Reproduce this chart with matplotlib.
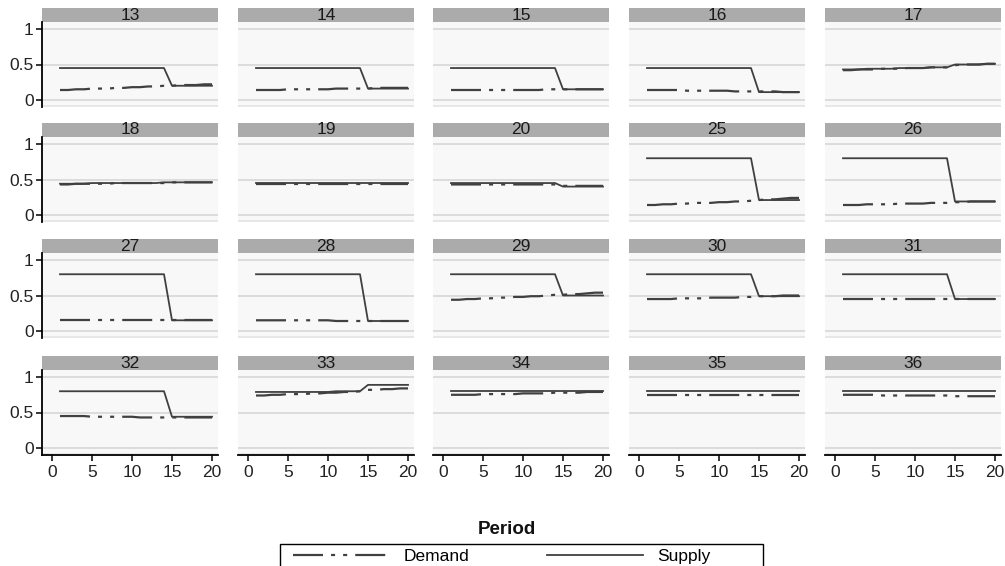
import matplotlib
matplotlib.use("Agg")
import matplotlib.pyplot as plt
from matplotlib.patches import Rectangle
from matplotlib.lines import Line2D

plt.rcParams['font.family'] = ['Liberation Sans', 'DejaVu Sans']
plt.rcParams['lines.scale_dashes'] = False

periods = list(range(1, 21))
panel_ids = ["13", "14", "15", "16", "17",
             "18", "19", "20", "25", "26",
             "27", "28", "29", "30", "31",
             "32", "33", "34", "35", "36"]

d13 = [0.14, 0.14, 0.15, 0.15, 0.16, 0.16, 0.16, 0.17, 0.17, 0.18, 0.18, 0.19, 0.19, 0.20, 0.20, 0.21, 0.21, 0.21, 0.22, 0.22]
s13 = [0.45, 0.45, 0.45, 0.45, 0.45, 0.45, 0.45, 0.45, 0.45, 0.45, 0.45, 0.45, 0.45, 0.45, 0.20, 0.20, 0.20, 0.20, 0.20, 0.20]
d14 = [0.14, 0.14, 0.14, 0.14, 0.15, 0.15, 0.15, 0.15, 0.15, 0.15, 0.16, 0.16, 0.16, 0.16, 0.16, 0.17, 0.17, 0.17, 0.17, 0.17]
s14 = [0.45, 0.45, 0.45, 0.45, 0.45, 0.45, 0.45, 0.45, 0.45, 0.45, 0.45, 0.45, 0.45, 0.45, 0.16, 0.16, 0.16, 0.16, 0.16, 0.16]
d15 = [0.14, 0.14, 0.14, 0.14, 0.14, 0.14, 0.14, 0.14, 0.14, 0.14, 0.14, 0.14, 0.15, 0.15, 0.15, 0.15, 0.15, 0.15, 0.15, 0.15]
s15 = [0.45, 0.45, 0.45, 0.45, 0.45, 0.45, 0.45, 0.45, 0.45, 0.45, 0.45, 0.45, 0.45, 0.45, 0.15, 0.15, 0.15, 0.15, 0.15, 0.15]
d16 = [0.14, 0.14, 0.14, 0.14, 0.14, 0.13, 0.13, 0.13, 0.13, 0.13, 0.13, 0.12, 0.12, 0.12, 0.12, 0.12, 0.12, 0.11, 0.11, 0.11]
s16 = [0.45, 0.45, 0.45, 0.45, 0.45, 0.45, 0.45, 0.45, 0.45, 0.45, 0.45, 0.45, 0.45, 0.45, 0.11, 0.11, 0.11, 0.11, 0.11, 0.11]
d17 = [0.42, 0.42, 0.43, 0.43, 0.43, 0.44, 0.44, 0.44, 0.45, 0.45, 0.45, 0.46, 0.46, 0.46, 0.49, 0.50, 0.50, 0.50, 0.51, 0.51]
s17 = [0.43, 0.43, 0.43, 0.44, 0.44, 0.44, 0.44, 0.45, 0.45, 0.45, 0.45, 0.46, 0.46, 0.46, 0.50, 0.50, 0.50, 0.50, 0.51, 0.51]
d18 = [0.43, 0.43, 0.44, 0.44, 0.44, 0.44, 0.44, 0.45, 0.45, 0.45, 0.45, 0.45, 0.45, 0.45, 0.46, 0.46, 0.46, 0.46, 0.46, 0.46]
s18 = [0.44, 0.44, 0.44, 0.44, 0.45, 0.45, 0.45, 0.45, 0.45, 0.45, 0.45, 0.45, 0.45, 0.46, 0.46, 0.46, 0.46, 0.46, 0.46, 0.46]
d19 = [0.43, 0.43, 0.43, 0.43, 0.43, 0.43, 0.43, 0.43, 0.43, 0.43, 0.43, 0.43, 0.43, 0.43, 0.43, 0.43, 0.43, 0.43, 0.43, 0.43]
s19 = [0.45, 0.45, 0.45, 0.45, 0.45, 0.45, 0.45, 0.45, 0.45, 0.45, 0.45, 0.45, 0.45, 0.45, 0.45, 0.45, 0.45, 0.45, 0.45, 0.45]
d20 = [0.43, 0.43, 0.43, 0.43, 0.43, 0.43, 0.43, 0.43, 0.43, 0.43, 0.43, 0.43, 0.43, 0.43, 0.41, 0.41, 0.41, 0.41, 0.41, 0.41]
s20 = [0.45, 0.45, 0.45, 0.45, 0.45, 0.45, 0.45, 0.45, 0.45, 0.45, 0.45, 0.45, 0.45, 0.45, 0.40, 0.40, 0.40, 0.40, 0.40, 0.40]
d25 = [0.14, 0.14, 0.15, 0.15, 0.16, 0.16, 0.17, 0.17, 0.17, 0.18, 0.18, 0.19, 0.19, 0.20, 0.21, 0.22, 0.22, 0.23, 0.24, 0.24]
s25 = [0.80, 0.80, 0.80, 0.80, 0.80, 0.80, 0.80, 0.80, 0.80, 0.80, 0.80, 0.80, 0.80, 0.80, 0.21, 0.21, 0.21, 0.21, 0.21, 0.21]
d26 = [0.14, 0.14, 0.14, 0.15, 0.15, 0.15, 0.15, 0.16, 0.16, 0.16, 0.16, 0.17, 0.17, 0.17, 0.18, 0.18, 0.19, 0.19, 0.19, 0.19]
s26 = [0.80, 0.80, 0.80, 0.80, 0.80, 0.80, 0.80, 0.80, 0.80, 0.80, 0.80, 0.80, 0.80, 0.80, 0.19, 0.19, 0.19, 0.19, 0.19, 0.19]
d27 = [0.15, 0.15, 0.15, 0.15, 0.15, 0.15, 0.15, 0.15, 0.15, 0.15, 0.15, 0.15, 0.15, 0.15, 0.15, 0.15, 0.15, 0.15, 0.15, 0.15]
s27 = [0.80, 0.80, 0.80, 0.80, 0.80, 0.80, 0.80, 0.80, 0.80, 0.80, 0.80, 0.80, 0.80, 0.80, 0.15, 0.15, 0.15, 0.15, 0.15, 0.15]
d28 = [0.15, 0.15, 0.15, 0.15, 0.15, 0.15, 0.15, 0.15, 0.15, 0.15, 0.14, 0.14, 0.14, 0.14, 0.14, 0.14, 0.14, 0.14, 0.14, 0.14]
s28 = [0.80, 0.80, 0.80, 0.80, 0.80, 0.80, 0.80, 0.80, 0.80, 0.80, 0.80, 0.80, 0.80, 0.80, 0.14, 0.14, 0.14, 0.14, 0.14, 0.14]
d29 = [0.44, 0.44, 0.45, 0.45, 0.46, 0.46, 0.47, 0.47, 0.48, 0.48, 0.49, 0.49, 0.50, 0.51, 0.51, 0.52, 0.52, 0.53, 0.54, 0.54]
s29 = [0.80, 0.80, 0.80, 0.80, 0.80, 0.80, 0.80, 0.80, 0.80, 0.80, 0.80, 0.80, 0.80, 0.80, 0.50, 0.50, 0.50, 0.50, 0.50, 0.50]
d30 = [0.45, 0.45, 0.45, 0.45, 0.46, 0.46, 0.46, 0.46, 0.47, 0.47, 0.47, 0.47, 0.48, 0.48, 0.49, 0.49, 0.49, 0.50, 0.50, 0.50]
s30 = [0.80, 0.80, 0.80, 0.80, 0.80, 0.80, 0.80, 0.80, 0.80, 0.80, 0.80, 0.80, 0.80, 0.80, 0.49, 0.49, 0.49, 0.49, 0.49, 0.49]
d31 = [0.45, 0.45, 0.45, 0.45, 0.45, 0.45, 0.45, 0.45, 0.45, 0.45, 0.45, 0.45, 0.45, 0.45, 0.45, 0.45, 0.45, 0.45, 0.45, 0.45]
s31 = [0.80, 0.80, 0.80, 0.80, 0.80, 0.80, 0.80, 0.80, 0.80, 0.80, 0.80, 0.80, 0.80, 0.80, 0.45, 0.45, 0.45, 0.45, 0.45, 0.45]
d32 = [0.45, 0.45, 0.45, 0.45, 0.44, 0.44, 0.44, 0.44, 0.44, 0.44, 0.43, 0.43, 0.43, 0.43, 0.43, 0.43, 0.43, 0.43, 0.43, 0.43]
s32 = [0.80, 0.80, 0.80, 0.80, 0.80, 0.80, 0.80, 0.80, 0.80, 0.80, 0.80, 0.80, 0.80, 0.80, 0.44, 0.44, 0.44, 0.44, 0.44, 0.44]
d33 = [0.74, 0.74, 0.75, 0.75, 0.76, 0.76, 0.76, 0.77, 0.77, 0.78, 0.78, 0.79, 0.79, 0.80, 0.82, 0.82, 0.83, 0.83, 0.84, 0.84]
s33 = [0.79, 0.79, 0.79, 0.79, 0.79, 0.79, 0.79, 0.79, 0.79, 0.79, 0.80, 0.80, 0.80, 0.80, 0.89, 0.89, 0.89, 0.89, 0.89, 0.89]
d34 = [0.75, 0.75, 0.75, 0.75, 0.76, 0.76, 0.76, 0.76, 0.76, 0.77, 0.77, 0.77, 0.77, 0.78, 0.78, 0.78, 0.78, 0.79, 0.79, 0.79]
s34 = [0.80, 0.80, 0.80, 0.80, 0.80, 0.80, 0.80, 0.80, 0.80, 0.80, 0.80, 0.80, 0.80, 0.80, 0.80, 0.80, 0.80, 0.80, 0.80, 0.80]
d35 = [0.75, 0.75, 0.75, 0.75, 0.75, 0.75, 0.75, 0.75, 0.75, 0.75, 0.75, 0.75, 0.75, 0.75, 0.75, 0.75, 0.75, 0.75, 0.75, 0.75]
s35 = [0.80, 0.80, 0.80, 0.80, 0.80, 0.80, 0.80, 0.80, 0.80, 0.80, 0.80, 0.80, 0.80, 0.80, 0.80, 0.80, 0.80, 0.80, 0.80, 0.80]
d36 = [0.75, 0.75, 0.75, 0.75, 0.75, 0.74, 0.74, 0.74, 0.74, 0.74, 0.74, 0.74, 0.74, 0.74, 0.73, 0.73, 0.73, 0.73, 0.73, 0.73]
s36 = [0.80, 0.80, 0.80, 0.80, 0.80, 0.80, 0.80, 0.80, 0.80, 0.80, 0.80, 0.80, 0.80, 0.80, 0.80, 0.80, 0.80, 0.80, 0.80, 0.80]

demand = [d13, d14, d15, d16, d17, d18, d19, d20, d25, d26,
          d27, d28, d29, d30, d31, d32, d33, d34, d35, d36]
supply = [s13, s14, s15, s16, s17, s18, s19, s20, s25, s26,
          s27, s28, s29, s30, s31, s32, s33, s34, s35, s36]

y_ticks = [0, 0.5, 1]
y_tick_labels = ["0", "0.5", "1"]
x_ticks = [0, 5, 10, 15, 20]

W, H = 1005, 566
fig = plt.figure(figsize=(W / 100, H / 100), dpi=100)
fig.patch.set_facecolor("white")

col_left = [42, 238, 433, 629, 825]
panel_w = 176
row_top = [22, 137, 253, 370]   # top of plot area (below strip)
panel_h = 85
strip_h = 14

line_col = "#404040"
demand_dash = (21.6, 5.8, 2.9, 5.8, 2.9, 5.8)
fs = 12.5

for i, pid in enumerate(panel_ids):
    r, c = divmod(i, 5)
    x0 = col_left[c] / W
    y0 = 1 - (row_top[r] + panel_h) / H
    ax = fig.add_axes([x0, y0, panel_w / W, panel_h / H])
    ax.set_facecolor("#f8f8f8")
    ax.set_xlim(-1.25, 20.75)
    ax.set_ylim(-0.1, 1.1)
    for yv in y_ticks:
        ax.axhline(yv, color="#dcdcdc", lw=1.4, zorder=1)
    ax.axhline(-0.085, color="#e4e4e4", lw=1.2, zorder=1)
    ax.plot(periods, supply[i], color=line_col, lw=1.3, zorder=3)
    dl, = ax.plot(periods, demand[i], color=line_col, lw=1.6, zorder=3)
    dl.set_dashes(demand_dash)
    for sp in ax.spines.values():
        sp.set_visible(False)
    ax.set_yticks(y_ticks)
    ax.set_xticks(x_ticks)
    if c == 0:
        ax.spines["left"].set_visible(True)
        ax.spines["left"].set_color("black")
        ax.spines["left"].set_linewidth(1.3)
        ax.set_yticklabels(y_tick_labels, fontsize=fs, color="#222222")
        ax.tick_params(axis="y", length=4, width=1.1, color="black", pad=2)
    else:
        ax.tick_params(axis="y", length=0, labelleft=False)
    if r == 3:
        ax.spines["bottom"].set_visible(True)
        ax.spines["bottom"].set_color("black")
        ax.spines["bottom"].set_linewidth(1.3)
        ax.set_xticklabels([str(v) for v in x_ticks], fontsize=fs, color="#222222")
        ax.tick_params(axis="x", length=4, width=1.1, color="black", pad=3)
    else:
        ax.tick_params(axis="x", length=0, labelbottom=False)
    # strip
    sh = strip_h / panel_h
    ax.add_patch(Rectangle((0, 1), 1, sh, transform=ax.transAxes,
                           facecolor="#ababab", edgecolor="none", clip_on=False))
    ax.text(0.5, 1 + sh / 2, pid, transform=ax.transAxes, ha="center",
            va="center", fontsize=fs, color="#1a1a1a")

fig.text(507 / W, 1 - 529 / H, "Period", ha="center", va="center",
         fontsize=13.5, fontweight="bold", color="#111111")

# legend box
fig.patches.append(Rectangle((280 / W, -0.01), 483 / W, 0.01 + 22 / H,
                             transform=fig.transFigure, facecolor="white",
                             edgecolor="black", lw=1.0, zorder=1))

h_d = Line2D([], [], color=line_col, lw=1.6)
h_d.set_dashes(demand_dash)
h_s = Line2D([], [], color=line_col, lw=1.3)
leg = fig.legend([h_d, h_s], ["Demand", "Supply"], ncol=2,
                 loc="center left",
                 bbox_to_anchor=(293 / W, 1 - 556 / H),
                 frameon=False, fontsize=fs, handlelength=5.5,
                 handletextpad=0.85, columnspacing=4.5,
                 borderpad=0.0, borderaxespad=0)

fig.savefig("out.png", dpi=100)
